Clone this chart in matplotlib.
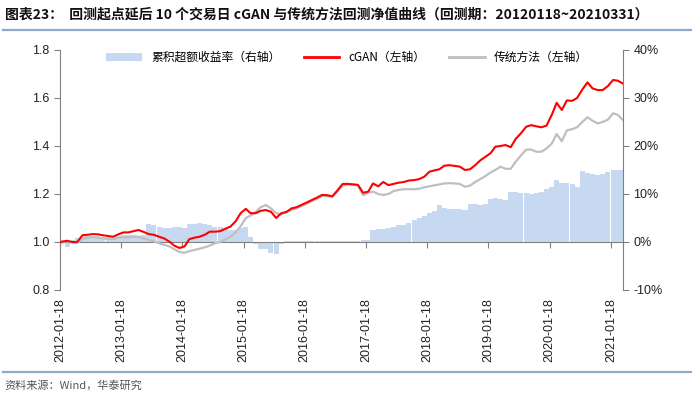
import matplotlib
matplotlib.use("Agg")
import matplotlib.pyplot as plt
import matplotlib.dates as mdates
from matplotlib.patches import Patch
from matplotlib.lines import Line2D
from matplotlib.ticker import FuncFormatter
import pandas as pd

plt.rcParams["font.family"] = ["Liberation Sans", "Noto Sans CJK SC", "DejaVu Sans"]

# 月度数据（起点 2012-01-18，之后为各月末）
cgan = [
    1.000, 1.005, 1.000, 1.000, 1.028, 1.030, 1.033, 1.032, 1.028, 1.025, 1.022, 1.032,  # 2012
    1.040, 1.040, 1.045, 1.050, 1.042, 1.033, 1.030, 1.022, 1.015, 1.002, 0.985, 0.975,  # 2013
    0.982, 1.012, 1.018, 1.022, 1.030, 1.043, 1.043, 1.045, 1.055, 1.064, 1.085, 1.120,  # 2014
    1.138, 1.120, 1.120, 1.130, 1.133, 1.126, 1.100, 1.120, 1.125, 1.140, 1.145, 1.155,  # 2015
    1.165, 1.175, 1.185, 1.196, 1.195, 1.190, 1.215, 1.242, 1.242, 1.240, 1.238, 1.205,  # 2016
    1.210, 1.244, 1.232, 1.250, 1.237, 1.242, 1.247, 1.250, 1.256, 1.258, 1.262, 1.272,  # 2017
    1.293, 1.298, 1.303, 1.318, 1.320, 1.317, 1.314, 1.300, 1.303, 1.320, 1.340, 1.355,  # 2018
    1.370, 1.397, 1.400, 1.404, 1.395, 1.430, 1.453, 1.480, 1.487, 1.482, 1.478, 1.485,  # 2019
    1.530, 1.580, 1.550, 1.590, 1.588, 1.600, 1.635, 1.665, 1.640, 1.633, 1.633, 1.650,  # 2020
    1.675, 1.672, 1.660,                                                                 # 2021
]
traditional = [
    1.000, 1.002, 0.998, 0.997, 1.012, 1.018, 1.020, 1.018, 1.015, 1.013, 1.012, 1.018,
    1.020, 1.020, 1.022, 1.022, 1.015, 1.008, 1.003, 0.995, 0.988, 0.982, 0.970, 0.958,
    0.955, 0.962, 0.967, 0.972, 0.978, 0.985, 0.995, 1.000, 1.010, 1.022, 1.040, 1.065,
    1.100, 1.110, 1.126, 1.145, 1.154, 1.140, 1.120, 1.115, 1.125, 1.133, 1.140, 1.150,
    1.160, 1.170, 1.180, 1.192, 1.190, 1.190, 1.210, 1.235, 1.240, 1.240, 1.235, 1.195,
    1.205, 1.210, 1.200, 1.196, 1.200, 1.212, 1.217, 1.220, 1.220, 1.220, 1.222, 1.228,
    1.232, 1.236, 1.240, 1.244, 1.245, 1.244, 1.242, 1.230, 1.235, 1.250, 1.262, 1.275,
    1.290, 1.300, 1.314, 1.305, 1.305, 1.335, 1.360, 1.385, 1.385, 1.376, 1.376, 1.390,
    1.410, 1.450, 1.420, 1.465, 1.470, 1.478, 1.500, 1.520, 1.505, 1.494, 1.500, 1.510,
    1.536, 1.530, 1.508,
]
excess = [
    -0.5, -1.0, 0.5, 0.8, 1.0, 1.2, 1.2, 1.2, 1.0, 1.1, 1.0, 1.3,
    1.5, 1.5, 1.5, 1.2, 1.5, 3.8, 3.5, 3.2, 3.0, 3.0, 3.2, 3.2,
    3.0, 3.8, 3.8, 3.9, 3.8, 3.6, 3.2, 3.2, 3.0, 2.5, 2.5, 3.0,
    3.2, 1.0, -0.5, -1.5, -1.5, -2.2, -2.5, -0.5, 0.2, 0.2, 0.2, 0.3,
    0.3, 0.2, 0.3, 0.2, 0.2, 0.2, 0.3, 0.3, 0.2, 0.2, 0.3, 0.4,
    0.4, 2.5, 2.8, 2.8, 3.0, 3.2, 3.5, 3.6, 4.0, 4.5, 5.0, 5.5,
    6.0, 6.5, 7.7, 7.0, 6.9, 6.8, 6.8, 6.7, 8.0, 7.9, 7.8, 8.0,
    9.0, 9.2, 9.0, 8.8, 10.5, 10.5, 10.3, 10.2, 10.0, 10.2, 10.5, 11.0,
    11.5, 12.9, 12.2, 12.2, 12.0, 11.5, 14.8, 14.3, 14.2, 14.0, 14.2, 14.5,
    15.0, 15.0, 15.1,
]
tick_labels = ["2012-01-18", "2013-01-18", "2014-01-18", "2015-01-18", "2016-01-18",
               "2017-01-18", "2018-01-18", "2019-01-18", "2020-01-18", "2021-01-18"]

dates = [pd.Timestamp("2012-01-18")] + list(pd.date_range("2012-02-29", "2021-03-31", freq="ME"))
x = mdates.date2num(dates)
ticks = mdates.date2num(pd.to_datetime(tick_labels))

fig = plt.figure(figsize=(7, 3.99), dpi=100)
ax = fig.add_axes([0.0857, 0.2732, 0.8043, 0.6015])
ax2 = ax.twinx()

ax2.bar(x, excess, width=30, color="#c6d9f1", linewidth=0, zorder=1)
ax.plot(x, traditional, color="#bfbfbf", lw=1.6, zorder=3)
ax.plot(x, cgan, color="#ff0000", lw=1.5, zorder=4)

ax.set_zorder(ax2.get_zorder() + 1)
ax.patch.set_visible(False)

ax.set_xlim(mdates.date2num(pd.Timestamp("2012-01-18")), mdates.date2num(pd.Timestamp("2021-03-31")))
ax.set_ylim(0.8, 1.8)
ax.set_yticks([0.8, 1.0, 1.2, 1.4, 1.6, 1.8])
ax.yaxis.set_major_formatter(FuncFormatter(lambda v, p: f"{v:.1f}"))
ax2.set_ylim(-10, 40)
ax2.set_yticks([-10, 0, 10, 20, 30, 40])
ax2.yaxis.set_major_formatter(FuncFormatter(lambda v, p: f"{v:.0f}%"))

gray = "#808080"
for a in (ax, ax2):
    a.spines["top"].set_visible(False)
    a.spines["bottom"].set_visible(False)
    a.spines["left"].set_color(gray)
    a.spines["right"].set_color(gray)
ax.spines["right"].set_visible(False)
ax2.spines["left"].set_visible(False)
ax.tick_params(axis="y", direction="out", length=4, color=gray, labelsize=9, labelcolor="#222222")
ax2.tick_params(axis="y", direction="out", length=4, color=gray, labelsize=9, labelcolor="#222222")

# 日期标签在底部，轴线与刻度在 1.0 处
ax.set_xticks(ticks)
ax.set_xticklabels(tick_labels, rotation=90)
ax.tick_params(axis="x", length=0, labelsize=9, pad=6, labelcolor="#222222")
sec = ax.secondary_xaxis(0.2)
sec.set_xticks(ticks)
sec.set_xticklabels([""] * len(ticks))
sec.tick_params(axis="x", direction="out", length=4, color=gray)
sec.spines["bottom"].set_color(gray)

handles = [
    Patch(facecolor="#c6d9f1", edgecolor="none"),
    Line2D([], [], color="#ff0000", lw=2),
    Line2D([], [], color="#bfbfbf", lw=2),
]
labels = ["累积超额收益率（右轴）", "cGAN（左轴）", "传统方法（左轴）"]
ax.legend(handles, labels, loc="upper center", bbox_to_anchor=(0.51, 1.04), ncol=3,
          frameon=False, handlelength=3, columnspacing=2.0,
          prop={"family": ["Noto Sans CJK SC", "DejaVu Sans"], "size": 8.5})

fig.text(0.007, 0.963, "图表23：  回测起点延后 10 个交易日 cGAN 与传统方法回测净值曲线（回测期：20120118~20210331）",
         fontsize=10, fontweight="bold", va="center", ha="left",
         family=["Noto Sans CJK SC", "DejaVu Sans"], color="#111111")
fig.add_artist(Line2D([0.004, 0.987], [0.924, 0.924], color="#8eaacb", lw=1.6))
fig.add_artist(Line2D([0.004, 0.987], [0.068, 0.068], color="#8eaacb", lw=1.6))
fig.text(0.007, 0.035, "资料来源：Wind，华泰研究", fontsize=8, va="center", ha="left",
         family=["Noto Sans CJK SC", "DejaVu Sans"], color="#555555")

fig.savefig("out.png", dpi=100)
